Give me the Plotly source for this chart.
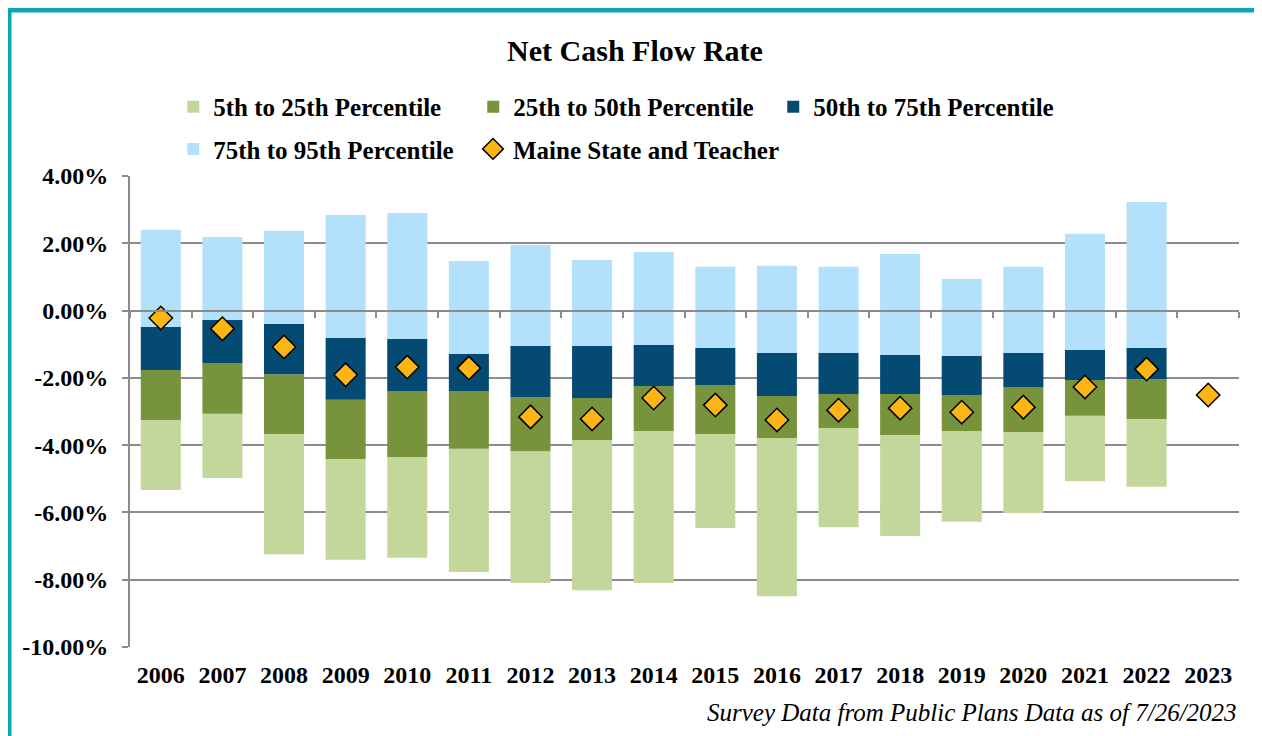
import plotly.graph_objects as go

# percentile values (in %) per plan year
years = [str(y) for y in range(2006, 2024)]
p95 = [2.40, 2.19, 2.37, 2.84, 2.90, 1.47, 1.95, 1.50, 1.74, 1.30, 1.33, 1.30, 1.68, 0.94, 1.30, 2.28, 3.23, None]
p75 = [-0.49, -0.28, -0.40, -0.81, -0.84, -1.29, -1.05, -1.05, -1.02, -1.11, -1.26, -1.26, -1.32, -1.35, -1.26, -1.17, -1.11, None]
p50 = [-1.77, -1.56, -1.89, -2.65, -2.39, -2.39, -2.57, -2.60, -2.24, -2.21, -2.54, -2.48, -2.48, -2.51, -2.27, -2.06, -2.04, None]
p25 = [-3.25, -3.07, -3.67, -4.41, -4.35, -4.11, -4.18, -3.85, -3.58, -3.67, -3.79, -3.49, -3.70, -3.58, -3.61, -3.13, -3.22, None]
p5 = [-5.33, -4.98, -7.24, -7.41, -7.35, -7.77, -8.10, -8.31, -8.10, -6.46, -8.49, -6.44, -6.70, -6.28, -6.02, -5.07, -5.24, None]
maine = [-0.22, -0.54, -1.08, -1.91, -1.68, -1.71, -3.16, -3.22, -2.60, -2.81, -3.25, -2.96, -2.90, -3.02, -2.87, -2.27, -1.74, -2.51]

# y tick labels (plain hyphen, as in the source chart)
ytick_vals = [4, 2, 0, -2, -4, -6, -8, -10]
ytick_text = ["4.00%", "2.00%", "0.00%", "-2.00%", "-4.00%", "-6.00%", "-8.00%", "-10.00%"]

FONT = "Liberation Serif"
GRID = "#8c8c8c"
xs = list(range(len(years)))


def band(lo, hi):
    return [None if (a is None or b is None) else b - a for a, b in zip(lo, hi)]


fig = go.Figure()

bands = [
    ("5th to 25th Percentile", p5, p25, "#c4d79b", "legend"),
    ("25th to 50th Percentile", p25, p50, "#77933c", "legend"),
    ("50th to 75th Percentile", p50, p75, "#054a73", "legend"),
    ("75th to 95th Percentile", p75, p95, "#b3e0fb", "legend2"),
]
for name, lo, hi, col, lg in bands:
    fig.add_trace(go.Bar(
        x=xs, y=band(lo, hi), base=lo, name=name, width=0.65,
        marker=dict(color=col, line=dict(width=0)), legend=lg,
    ))

fig.add_trace(go.Scatter(
    x=xs, y=maine, mode="markers", name="Maine State and Teacher",
    marker=dict(symbol="diamond", size=18, color="#fdb515",
                line=dict(color="black", width=1.5)),
    legend="legend3",
))

# dummy trace so the zero-line category axis gets drawn
fig.add_trace(go.Scatter(x=[None], y=[None], xaxis="x2", showlegend=False))

legend_style = dict(
    orientation="h", xanchor="left", yanchor="middle",
    font=dict(family=FONT, size=25, color="black", weight="bold"),
    bgcolor="rgba(0,0,0,0)", traceorder="normal",
)

# page body has an 8px margin, so the figure is 8px smaller each way
fig.update_layout(
    width=1254, height=728,
    margin=dict(l=122, r=23, t=168, b=89),
    paper_bgcolor="white", plot_bgcolor="white",
    barmode="overlay",
    title=dict(text="Net Cash Flow Rate", x=0.5, xanchor="center", y=0.9423, yanchor="middle",
               font=dict(family=FONT, size=30, color="black", weight="bold")),
    legend=dict(x=0.039, y=1.1465, entrywidth=255, **legend_style),
    legend2=dict(x=0.039, y=1.057, **legend_style),
    legend3=dict(x=0.3093, y=1.057, **legend_style),
    xaxis=dict(range=[-0.5, 17.5], tickvals=xs, ticktext=years, showgrid=False,
               ticks="", showline=False, zeroline=False, ticklabelstandoff=11,
               tickfont=dict(family=FONT, size=24, color="black", weight="bold")),
    xaxis2=dict(range=[-0.5, 17.5], overlaying="x", anchor="free", position=10 / 14,
                side="bottom", showline=True, linecolor=GRID, linewidth=2,
                ticks="outside", ticklen=6, tickcolor=GRID, tickwidth=2,
                tickvals=[i - 0.5 for i in range(len(years) + 1)],
                showticklabels=False, showgrid=False, zeroline=False),
    yaxis=dict(range=[-10, 4], tickvals=ytick_vals, ticktext=ytick_text,
               showgrid=True, gridcolor=GRID, gridwidth=2, zeroline=False,
               showline=True, linecolor=GRID, linewidth=2,
               ticks="outside", ticklen=6, tickcolor=GRID, tickwidth=2,
               ticklabelstandoff=9,
               tickfont=dict(family=FONT, size=24, color="black", weight="bold")),
    showlegend=True,
)

fig.add_annotation(
    text="Survey Data from Public Plans Data as of 7/26/2023",
    xref="paper", yref="paper", x=1, y=-0.14, xanchor="right", yanchor="middle",
    showarrow=False, font=dict(family=FONT, size=25, color="black", style="italic"),
)

# teal frame around the chart
fig.add_shape(type="rect", xref="paper", yref="paper",
              x0=-0.1091, x1=1.0167, y0=-0.25, y1=1.3524,
              line=dict(color="#0aa6b8", width=5), layer="below")

fig.write_html("out.html")
